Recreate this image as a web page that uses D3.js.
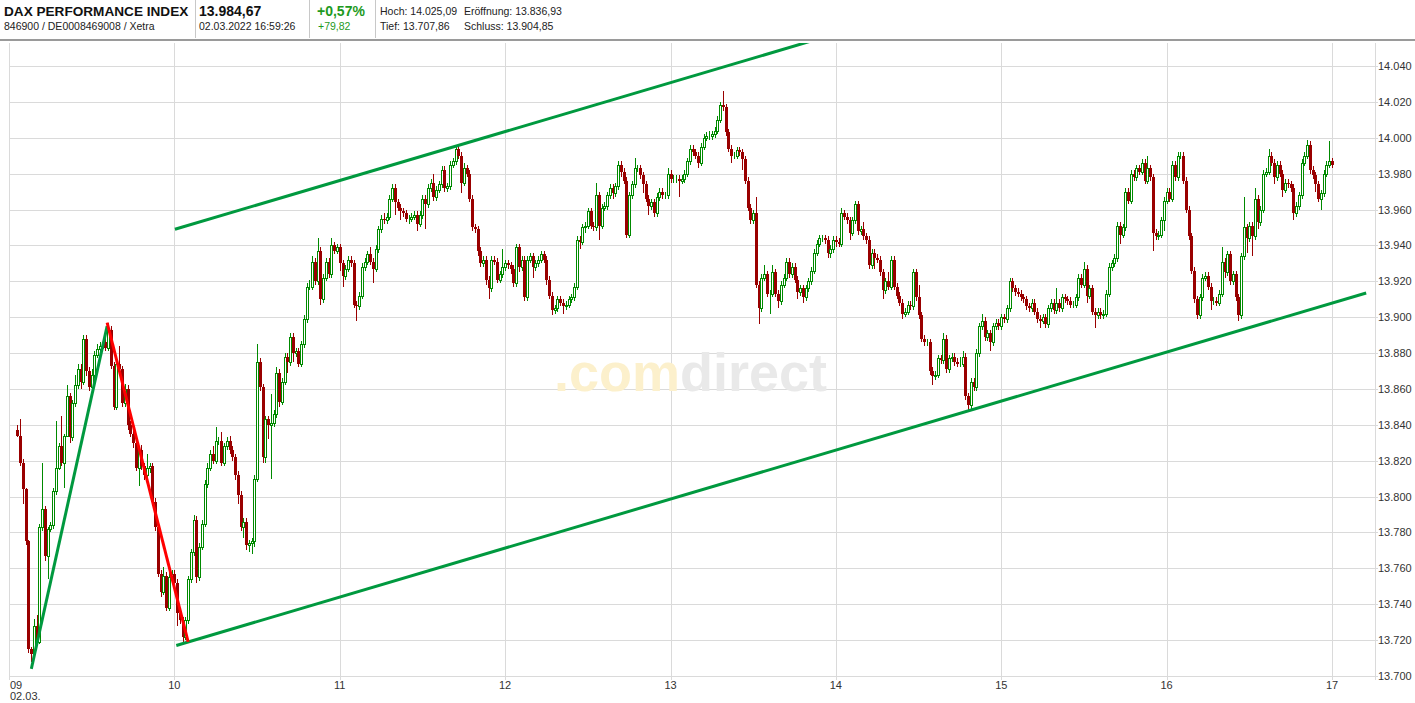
<!DOCTYPE html>
<html><head><meta charset="utf-8">
<script src="https://cdn.jsdelivr.net/npm/d3@7"></script>
<style>
html,body{margin:0;padding:0;background:#fff;}
svg{display:block;font-family:"Liberation Sans",Arial,sans-serif;}
</style></head>
<body><svg id="c" width="1415" height="703"></svg>
<script>
// ---------- header data ----------
const title = "DAX PERFORMANCE INDEX";
const subtitle = "846900 / DE0008469008 / Xetra";
const lastPrice = "13.984,67";
const lastTime = "02.03.2022 16:59:26";
const changePct = "+0,57%";
const changeAbs = "+79,82";
const statsRow1 = ["Hoch: 14.025,09", "Eröffnung: 13.836,93"];
const statsRow2 = ["Tief: 13.707,86", "Schluss: 13.904,85"];

// ---------- axis data ----------
const yTicks = [13700,13720,13740,13760,13780,13800,13820,13840,13860,13880,13900,13920,13940,13960,13980,14000,14020,14040];
const hourTicks = [0,60,120,180,240,300,360,420,480];          // minutes after 09:00
const hourLabels = ["09","10","11","12","13","14","15","16","17"];
const dateLabel = "02.03.";

// ---------- 1-minute candles (plotted at minute after 09:00) ----------
const firstOpen = 13836.93;
const firstMinute = 3;
const closes = [
13834,13819,13804,13775,13715,13712,13728,13719,13783,13793,13767,13782,13784,13803,13816,13828,13819,13834,13856,13833,
13852,13862,13871,13864,13888,13870,13861,13868,13879,13882,13884,13886,13883,13893,13873,13850,13874,13871,13852,13860,
13840,13835,13830,13816,13826,13817,13812,13816,13817,13797,13783,13757,13747,13756,13738,13755,13757,13752,13735,13731,
13722,13731,13754,13769,13787,13755,13772,13785,13807,13816,13824,13820,13831,13831,13819,13828,13831,13826,13822,13812,
13801,13783,13786,13773,13774,13775,13810,13875,13861,13822,13843,13840,13841,13846,13869,13853,13864,13878,13875,13889,
13880,13881,13874,13885,13899,13917,13917,13931,13920,13937,13910,13922,13931,13924,13940,13937,13939,13930,13923,13927,
13932,13930,13907,13906,13912,13928,13931,13935,13931,13927,13938,13949,13955,13954,13956,13966,13972,13964,13961,13959,
13958,13955,13955,13956,13957,13952,13957,13966,13963,13972,13975,13967,13971,13974,13982,13972,13973,13985,13987,13994,
13990,13975,13983,13980,13966,13950,13949,13937,13930,13932,13921,13916,13932,13931,13921,13924,13928,13930,13929,13927,
13919,13939,13928,13932,13911,13932,13934,13928,13930,13932,13935,13932,13921,13912,13904,13905,13910,13908,13906,13907,
13910,13911,13917,13943,13942,13950,13951,13959,13951,13950,13968,13951,13961,13962,13968,13972,13969,13973,13985,13981,
13976,13946,13968,13974,13983,13983,13979,13974,13966,13962,13964,13958,13967,13970,13968,13968,13980,13977,13977,13977,
13976,13977,13980,13987,13994,13992,13990,13986,13995,14000,14001,14001,14002,14004,14010,14018,14017,14003,13994,13990,
13990,13993,13992,13988,13976,13961,13954,13958,13918,13905,13922,13924,13913,13913,13925,13913,13909,13918,13922,13931,
13924,13928,13921,13914,13916,13911,13916,13920,13926,13936,13941,13944,13944,13943,13936,13938,13943,13942,13941,13958,
13956,13954,13947,13954,13963,13948,13949,13945,13943,13929,13936,13933,13932,13925,13915,13920,13917,13932,13917,13912,
13908,13902,13903,13907,13906,13925,13911,13901,13888,13886,13886,13870,13867,13868,13877,13876,13888,13871,13877,13878,
13875,13874,13874,13878,13856,13851,13864,13861,13880,13895,13898,13889,13891,13886,13895,13897,13895,13900,13899,13905,
13920,13916,13914,13913,13911,13910,13906,13905,13908,13903,13899,13898,13900,13896,13905,13908,13904,13908,13905,13911,
13910,13909,13907,13907,13911,13922,13918,13927,13912,13916,13903,13901,13903,13901,13902,13913,13928,13930,13933,13951,
13946,13950,13970,13965,13980,13978,13983,13981,13986,13976,13983,13978,13947,13945,13946,13954,13965,13970,13966,13985,
13978,13990,13990,13976,13960,13945,13926,13910,13901,13911,13922,13923,13917,13909,13909,13908,13913,13931,13925,13935,
13920,13924,13911,13901,13934,13950,13944,13951,13945,13966,13953,13960,13980,13981,13990,13986,13978,13985,13980,13971,
13975,13974,13972,13958,13962,13968,13986,13990,13996,13982,13979,13974,13966,13969,13980,13985,13987,13985
];
// wick length above body top / below body bottom (index points)
const wickUp = [
3,9,2,1,1,1,4,6,2,26,2,1,2,2,26,2,17,1,6,2,
2,6,3,3,2,2,2,3,2,3,2,2,3,4,2,2,3,10,2,3,
2,2,2,2,2,3,2,8,2,2,2,2,2,5,2,3,2,2,2,2,
2,2,2,2,3,2,2,2,2,3,2,4,8,2,5,2,2,3,2,2,
2,2,2,2,2,2,2,10,2,2,2,2,16,2,3,2,2,2,2,2,
2,2,2,2,2,2,4,3,2,7,2,2,2,2,4,2,2,2,2,2,
2,2,2,2,2,2,2,2,4,2,2,2,2,3,2,2,2,2,2,2,
2,2,2,2,2,2,2,2,2,2,2,5,2,2,2,2,2,2,2,1,
2,2,3,2,2,2,2,2,2,2,2,2,2,2,2,2,10,2,2,2,
2,2,2,2,2,2,2,2,2,2,2,2,2,2,2,2,2,2,2,2,
2,2,2,2,2,2,2,2,2,2,7,2,2,2,2,2,2,2,2,2,
2,2,2,2,6,2,2,2,2,2,2,2,2,2,2,2,3,2,2,2,
2,2,2,2,2,2,2,2,2,2,2,3,2,2,2,2,8,2,2,2,
2,2,2,2,2,2,2,2,9,2,2,5,2,2,4,2,2,2,2,2,
2,2,2,2,2,2,2,2,2,2,2,2,2,2,2,2,2,2,2,3,
2,2,2,2,2,2,2,4,2,2,2,2,2,2,2,2,5,2,2,2,
2,2,2,2,2,2,2,7,2,2,2,2,2,2,2,2,3,2,2,2,
2,2,4,3,2,2,2,2,2,2,4,2,2,2,2,2,2,2,2,2,
2,2,2,2,2,2,2,2,2,2,2,2,2,2,2,2,2,8,2,2,
2,2,2,2,2,2,2,4,2,2,2,2,2,2,2,2,2,2,2,2,
2,2,2,2,2,2,2,2,2,2,7,2,2,2,2,2,2,2,2,2,
2,2,2,2,2,2,2,2,2,2,2,2,2,2,2,2,2,8,2,2,
2,2,2,2,2,17,2,2,2,6,2,2,2,2,4,2,2,2,2,2,
2,2,2,2,2,2,2,2,3,2,2,2,2,2,2,2,11,2
];
const wickDown = [
1,2,8,2,2,4,2,2,1,2,3,13,2,2,2,1,2,14,1,3,
2,2,2,4,2,3,2,2,2,2,2,2,2,2,2,2,2,2,2,2,
3,2,3,2,10,2,3,2,3,2,2,2,3,2,2,2,3,2,7,2,
4,2,2,2,2,3,2,2,2,2,2,2,2,2,2,2,2,2,2,3,
5,2,6,3,4,6,3,2,2,3,3,8,30,2,2,3,2,2,6,2,
5,2,2,2,2,2,2,2,2,2,3,2,2,2,2,2,2,4,6,2,
2,2,2,8,2,2,2,2,2,8,2,2,2,2,2,2,2,7,2,5,
2,2,3,2,2,4,2,2,14,2,2,2,2,2,2,2,2,2,2,2,
2,6,2,2,2,2,2,3,2,2,3,6,2,2,2,2,2,2,2,3,
2,2,3,2,2,2,2,6,2,2,2,2,3,2,3,2,2,2,4,2,
2,2,2,2,4,2,3,2,2,2,2,8,2,2,2,2,3,2,2,3,
2,2,2,2,2,2,2,5,2,5,2,2,2,2,2,2,2,2,2,2,
9,2,2,2,2,2,2,3,2,2,2,2,2,2,2,2,2,2,2,4,
2,2,2,6,2,2,2,2,2,9,2,2,2,11,2,2,4,2,2,2,
2,2,2,4,2,3,2,2,2,2,2,2,2,2,3,3,2,3,2,2,
2,2,4,2,2,2,2,2,2,2,2,6,2,2,5,2,2,2,2,2,
2,3,2,2,2,2,2,2,2,2,2,2,5,2,2,2,2,2,2,2,
2,2,2,2,2,3,2,2,2,2,2,2,2,5,2,2,2,2,2,2,
2,2,2,2,2,2,2,2,2,2,2,4,2,2,2,2,2,2,2,2,
2,2,2,2,2,2,2,2,4,2,2,7,2,2,2,2,2,2,2,2,
5,2,2,2,2,2,2,2,2,2,2,2,10,2,2,2,6,2,2,2,
2,2,2,2,2,2,2,2,2,2,2,2,2,5,2,2,2,2,3,2,
2,2,2,3,2,2,8,2,11,2,4,2,2,2,2,2,4,2,2,4,
2,2,2,4,2,2,2,2,2,2,2,4,2,6,2,2,2,2
];

// ---------- drawn trend lines [minute, price] ----------
const riseLine = [[8.1, 13704], [35.6, 13895]];
const fallLine = [[35.6, 13897], [65.0, 13719]];
const channelLower = [[60.7, 13717], [492.4, 13913.5]];
const channelUpper = [[60.2, 13949], [300, 14058]];

// ---------- drawing ----------
const svg = d3.select("#c");
const plot = {left: 9, right: 1375, top: 43, bottom: 676};
const x = d3.scaleLinear().domain([0, 480]).range([9, 1332]);
const y = d3.scaleLinear().domain([13700, 14040]).range([676, 66]);
const deFmt = d3.formatLocale({decimal: ",", thousands: ".", grouping: [3], currency: ["", "€"]}).format(",d");

const GREEN = "#008a00", RED = "#990000", LINEGREEN = "#00993f", GRID = "#dadada";

// header
const hdr = svg.append("g");
hdr.append("text").attr("x", 4).attr("y", 16).attr("font-size", 13.6).attr("font-weight", "bold").attr("fill", "#111").text(title);
hdr.append("text").attr("x", 4).attr("y", 30).attr("font-size", 10.5).attr("fill", "#222").text(subtitle);
hdr.append("text").attr("x", 199).attr("y", 16).attr("font-size", 14).attr("font-weight", "bold").attr("fill", "#111").text(lastPrice);
hdr.append("text").attr("x", 199).attr("y", 30).attr("font-size", 10.5).attr("fill", "#222").text(lastTime);
hdr.append("text").attr("x", 317).attr("y", 16).attr("font-size", 14).attr("font-weight", "bold").attr("fill", "#1e9a1e").text(changePct);
hdr.append("text").attr("x", 318).attr("y", 30).attr("font-size", 10.5).attr("fill", "#1e9a1e").text(changeAbs);
[380, 464].forEach((xx, i) => {
  hdr.append("text").attr("x", xx).attr("y", 15).attr("font-size", 10.5).attr("fill", "#222").text(statsRow1[i]);
  hdr.append("text").attr("x", xx).attr("y", 30).attr("font-size", 10.5).attr("fill", "#222").text(statsRow2[i]);
});
[195, 309, 375].forEach(xx => hdr.append("rect").attr("x", xx).attr("y", 0).attr("width", 1).attr("height", 38).attr("fill", "#c8c8c8"));
hdr.append("rect").attr("x", 0).attr("y", 39).attr("width", 1415).attr("height", 2).attr("fill", "#9a9a9a");

// grid
const grid = svg.append("g").attr("shape-rendering", "crispEdges");
grid.selectAll("line.h").data(yTicks).join("line")
  .attr("x1", plot.left).attr("x2", plot.right + 3)
  .attr("y1", d => Math.round(y(d)) + 0.5).attr("y2", d => Math.round(y(d)) + 0.5)
  .attr("stroke", GRID).attr("stroke-width", 1);
grid.selectAll("line.v").data(hourTicks).join("line")
  .attr("x1", d => Math.round(x(d)) + 0.5).attr("x2", d => Math.round(x(d)) + 0.5)
  .attr("y1", plot.top).attr("y2", plot.bottom + 4)
  .attr("stroke", GRID).attr("stroke-width", 1);
grid.append("line").attr("x1", plot.right + 0.5).attr("x2", plot.right + 0.5).attr("y1", plot.top).attr("y2", plot.bottom + 4).attr("stroke", GRID);

// axis labels
svg.append("g").selectAll("text").data(yTicks).join("text")
  .attr("x", 1378).attr("y", d => y(d) + 4)
  .attr("font-size", 11).attr("fill", "#333").text(d => deFmt(d));
svg.append("g").selectAll("text").data(hourTicks).join("text")
  .attr("x", (d, i) => i === 0 ? x(d) + 1 : x(d))
  .attr("text-anchor", (d, i) => i === 0 ? "start" : "middle")
  .attr("y", 689).attr("font-size", 11).attr("fill", "#333").text((d, i) => hourLabels[i]);
svg.append("text").attr("x", x(0) + 1).attr("y", 700).attr("font-size", 11).attr("fill", "#333").text(dateLabel);

// watermark
const wm = svg.append("text").attr("x", 554).attr("y", 391).attr("font-size", 54).attr("font-weight", "bold");
wm.append("tspan").attr("fill", "#fcf0cc").text(".com");
wm.append("tspan").attr("fill", "#e9e9e9").text("direct");

// candles
const candles = closes.map((c, i) => {
  const o = i === 0 ? firstOpen : closes[i - 1];
  const top = Math.max(o, c), bot = Math.min(o, c);
  return {m: firstMinute + i, o, c, up: c >= o, hi: top + wickUp[i], lo: bot - wickDown[i], top, bot};
});
const cg = svg.append("g").attr("shape-rendering", "crispEdges");
const cand = cg.selectAll("g").data(candles).join("g");
cand.append("line")
  .attr("x1", d => Math.round(x(d.m)) + 0.5).attr("x2", d => Math.round(x(d.m)) + 0.5)
  .attr("y1", d => Math.round(y(d.hi))).attr("y2", d => Math.round(y(d.lo)))
  .attr("stroke", d => d.up ? GREEN : RED).attr("stroke-width", 1);
cand.filter(d => d.up).append("rect")
  .attr("x", d => Math.round(x(d.m)) - 0.5)
  .attr("y", d => Math.round(y(d.top)) + 0.5)
  .attr("width", 2)
  .attr("height", d => Math.max(0, Math.round(y(d.bot)) - Math.round(y(d.top))))
  .attr("fill", "#fff").attr("stroke", GREEN).attr("stroke-width", 1);
cand.filter(d => !d.up).append("rect")
  .attr("x", d => Math.round(x(d.m)) - 1)
  .attr("y", d => Math.round(y(d.top)))
  .attr("width", 3)
  .attr("height", d => Math.max(1, Math.round(y(d.bot)) - Math.round(y(d.top))))
  .attr("fill", RED);

// trend lines
svg.append("clipPath").attr("id", "pc").append("rect")
  .attr("x", plot.left).attr("y", plot.top).attr("width", 1415 - plot.left).attr("height", plot.bottom - plot.top);
const lg = svg.append("g").attr("clip-path", "url(#pc)");
const ln = d3.line().x(d => x(d[0])).y(d => y(d[1]));
[[channelUpper, LINEGREEN], [channelLower, LINEGREEN], [riseLine, LINEGREEN], [fallLine, "#ff0000"]].forEach(([pts, col]) => {
  lg.append("path").attr("d", ln(pts)).attr("fill", "none").attr("stroke", col).attr("stroke-width", 3);
});
</script>
</body></html>
